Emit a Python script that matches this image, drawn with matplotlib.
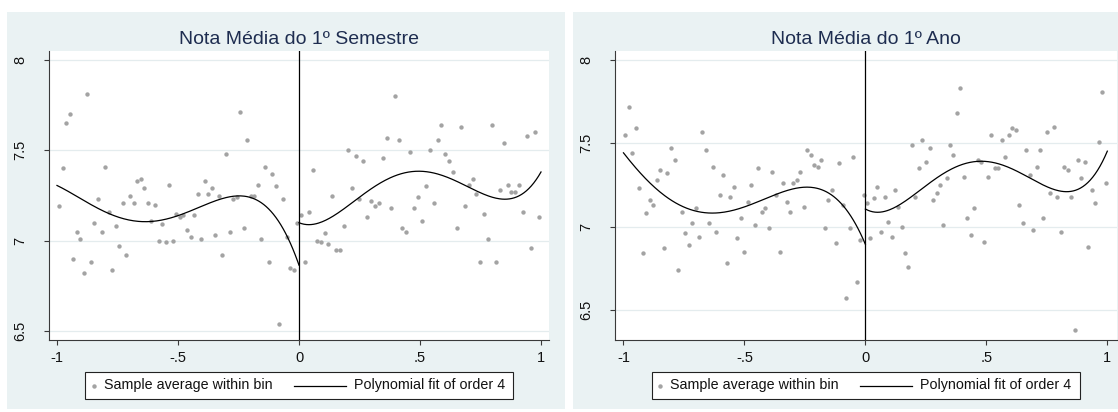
import numpy as np
import matplotlib
matplotlib.use("Agg")
import matplotlib.pyplot as plt
from matplotlib.patches import Rectangle
from matplotlib.lines import Line2D

plt.rcParams['font.family'] = ['Liberation Sans', 'DejaVu Sans']

W, H = 1118, 412
GREY = '#a3a3a3'
BG = '#eaf2f3'

titles = ["Nota Média do 1º Semestre", "Nota Média do 1º Ano"]

# bin averages, 1st semester
sem_xl = [-0.992, -0.977, -0.963, -0.948, -0.933, -0.917, -0.904, -0.888, -0.875, -0.860,
          -0.846, -0.831, -0.815, -0.800, -0.787, -0.771, -0.758, -0.742, -0.727, -0.713,
          -0.697, -0.683, -0.668, -0.654, -0.639, -0.624, -0.610, -0.595, -0.580, -0.566,
          -0.551, -0.537, -0.522, -0.507, -0.492, -0.478, -0.463, -0.448, -0.434, -0.419,
          -0.405, -0.390, -0.375, -0.361, -0.346, -0.331, -0.317, -0.302, -0.287, -0.271,
          -0.256, -0.244, -0.229, -0.213, -0.200, -0.184, -0.169, -0.156, -0.140, -0.125,
          -0.112, -0.096, -0.081, -0.067, -0.051, -0.037, -0.022, -0.008]
sem_yl = [7.19, 7.40, 7.65, 7.70, 6.90, 7.05, 7.01, 6.82, 7.81, 6.88,
          7.10, 7.23, 7.05, 7.41, 7.16, 6.84, 7.08, 6.97, 7.21, 6.92,
          7.25, 7.21, 7.33, 7.34, 7.29, 7.21, 7.11, 7.20, 7.00, 7.09,
          6.99, 7.31, 7.00, 7.15, 7.13, 7.14, 7.06, 7.02, 7.14, 7.26,
          7.01, 7.33, 7.26, 7.29, 7.03, 7.25, 6.92, 7.48, 7.05, 7.23,
          7.24, 7.71, 7.07, 7.56, 7.25, 7.25, 7.31, 7.01, 7.41, 6.88,
          7.37, 7.30, 6.54, 7.23, 7.02, 6.85, 6.84, 7.10]
sem_xr = [0.010, 0.025, 0.041, 0.056, 0.073, 0.090, 0.106, 0.121, 0.138, 0.153,
          0.169, 0.186, 0.201, 0.218, 0.234, 0.249, 0.266, 0.282, 0.299, 0.314,
          0.331, 0.346, 0.364, 0.380, 0.395, 0.412, 0.427, 0.444, 0.460, 0.475,
          0.492, 0.508, 0.523, 0.540, 0.556, 0.573, 0.588, 0.605, 0.620, 0.636,
          0.653, 0.669, 0.685, 0.701, 0.718, 0.733, 0.749, 0.766, 0.781, 0.798,
          0.814, 0.829, 0.846, 0.862, 0.877, 0.894, 0.910, 0.927, 0.942, 0.959,
          0.975, 0.992]
sem_yr = [7.14, 6.88, 7.16, 7.39, 7.00, 6.99, 7.04, 6.98, 7.25, 6.95,
          6.95, 7.08, 7.50, 7.29, 7.47, 7.23, 7.44, 7.13, 7.22, 7.19,
          7.21, 7.46, 7.57, 7.18, 7.80, 7.56, 7.07, 7.05, 7.49, 7.18,
          7.24, 7.11, 7.30, 7.50, 7.21, 7.56, 7.64, 7.48, 7.44, 7.38,
          7.07, 7.63, 7.19, 7.31, 7.34, 7.26, 6.88, 7.15, 7.01, 7.64,
          6.88, 7.28, 7.54, 7.31, 7.27, 7.27, 7.31, 7.16, 7.58, 6.96,
          7.60, 7.13]

# fitted curve, 1st semester
sem_fit_xl = [-1.0, -0.913, -0.844, -0.775, -0.706, -0.638, -0.569, -0.5, -0.431,
              -0.362, -0.293, -0.238, -0.183, -0.128, -0.073, -0.031, 0.0]
sem_fit_yl = [7.306, 7.242, 7.186, 7.142, 7.116, 7.109, 7.116, 7.138, 7.172,
              7.208, 7.238, 7.249, 7.236, 7.186, 7.079, 6.959, 6.873]
sem_fit_xr = [0.0, 0.037, 0.093, 0.161, 0.230, 0.299, 0.368, 0.437, 0.492,
              0.561, 0.630, 0.699, 0.767, 0.836, 0.878, 0.933, 1.0]
sem_fit_yr = [7.101, 7.090, 7.101, 7.149, 7.218, 7.288, 7.347, 7.382, 7.389,
              7.371, 7.332, 7.292, 7.255, 7.234, 7.238, 7.273, 7.375]

# bin averages, 1st year
ano_xl = [-0.992, -0.978, -0.963, -0.949, -0.934, -0.920, -0.905, -0.891, -0.876, -0.862,
          -0.847, -0.833, -0.818, -0.804, -0.789, -0.775, -0.760, -0.747, -0.731, -0.718,
          -0.702, -0.689, -0.674, -0.660, -0.645, -0.631, -0.616, -0.602, -0.587, -0.573,
          -0.558, -0.544, -0.529, -0.515, -0.500, -0.486, -0.471, -0.457, -0.442, -0.428,
          -0.413, -0.399, -0.384, -0.371, -0.355, -0.342, -0.326, -0.313, -0.298, -0.282,
          -0.269, -0.255, -0.240, -0.226, -0.211, -0.197, -0.182, -0.167, -0.153, -0.138,
          -0.123, -0.109, -0.094, -0.080, -0.065, -0.050, -0.036, -0.021, -0.007]
ano_yl = [7.55, 7.72, 7.44, 7.59, 7.23, 6.84, 7.08, 7.16, 7.13, 7.28,
          7.34, 6.87, 7.32, 7.47, 7.40, 6.74, 7.09, 6.96, 6.89, 7.02,
          7.11, 6.94, 7.57, 7.46, 7.02, 7.36, 6.97, 7.19, 7.31, 6.78,
          7.18, 7.24, 6.93, 7.05, 6.85, 7.15, 7.25, 7.01, 7.35, 7.09,
          7.11, 6.99, 7.33, 7.19, 6.85, 7.26, 7.15, 7.09, 7.26, 7.28,
          7.33, 7.12, 7.46, 7.43, 7.37, 7.36, 7.40, 6.99, 7.16, 7.22,
          6.90, 7.38, 7.13, 6.57, 6.99, 7.42, 6.67, 6.92, 7.19]
ano_xr = [0.007, 0.021, 0.036, 0.050, 0.065, 0.079, 0.092, 0.108, 0.121, 0.135,
          0.150, 0.164, 0.178, 0.193, 0.207, 0.222, 0.236, 0.251, 0.265, 0.279,
          0.294, 0.308, 0.321, 0.337, 0.350, 0.364, 0.378, 0.393, 0.407, 0.422,
          0.436, 0.450, 0.465, 0.479, 0.492, 0.506, 0.521, 0.535, 0.550, 0.564,
          0.578, 0.593, 0.607, 0.622, 0.636, 0.650, 0.665, 0.679, 0.692, 0.708,
          0.721, 0.735, 0.750, 0.764, 0.779, 0.793, 0.807, 0.821, 0.836, 0.850,
          0.865, 0.879, 0.892, 0.908, 0.921, 0.935, 0.950, 0.964, 0.979, 0.993]
ano_yr = [7.14, 6.93, 7.17, 7.24, 6.97, 7.18, 7.03, 6.94, 7.22, 7.12,
          7.00, 6.84, 6.76, 7.49, 7.18, 7.35, 7.52, 7.39, 7.47, 7.16,
          7.20, 7.25, 7.01, 7.29, 7.49, 7.43, 7.68, 7.83, 7.30, 7.05,
          6.95, 7.11, 7.40, 7.39, 6.91, 7.30, 7.55, 7.35, 7.35, 7.52,
          7.42, 7.55, 7.59, 7.58, 7.13, 7.02, 7.46, 7.31, 6.98, 7.36,
          7.46, 7.05, 7.57, 7.20, 7.60, 7.18, 6.97, 7.36, 7.34, 7.18,
          6.38, 7.40, 7.29, 7.39, 6.88, 7.22, 7.14, 7.51, 7.81, 7.26]

# fitted curve, 1st year
ano_fit_xl = [-1.0, -0.937, -0.882, -0.827, -0.772, -0.703, -0.634, -0.566, -0.496,
              -0.428, -0.359, -0.290, -0.235, -0.180, -0.125, -0.070, -0.028, 0.0]
ano_fit_yl = [7.430, 7.350, 7.260, 7.180, 7.124, 7.090, 7.076, 7.090, 7.124,
              7.166, 7.204, 7.230, 7.236, 7.220, 7.170, 7.080, 6.980, 6.900]
ano_fit_xr = [0.0, 0.032, 0.060, 0.115, 0.184, 0.253, 0.322, 0.390, 0.473,
              0.528, 0.597, 0.666, 0.735, 0.804, 0.838, 0.886, 0.941, 1.0]
ano_fit_yr = [7.116, 7.086, 7.080, 7.104, 7.170, 7.250, 7.330, 7.376, 7.390,
              7.380, 7.346, 7.300, 7.250, 7.216, 7.210, 7.230, 7.310, 7.445]

xticks = [-1, -0.5, 0, 0.5, 1]
xtick_labels = ['-1', '-.5', '0', '.5', '1']
yticks = [6.5, 7, 7.5, 8]
ytick_labels = ['6.5', '7', '7.5', '8']

legend_labels = ['Sample average within bin', 'Polynomial fit of order 4']


def frac(x0, y0, x1, y1):
    return [x0 / W, 1 - y1 / H, (x1 - x0) / W, (y1 - y0) / H]


fig = plt.figure(figsize=(W / 100, H / 100), dpi=100)
fig.patch.set_facecolor('white')

# panel backgrounds
for x0, x1 in [(7, 565), (573, 1118)]:
    fig.patches.append(Rectangle((x0 / W, 1 - 409 / H), (x1 - x0) / W, (409 - 12) / H,
                                 transform=fig.transFigure, facecolor=BG, edgecolor='none', zorder=-5))

panels = [
    (frac(49, 51, 549, 340), (-1.033, 1.033), (6.45, 8.05),
     (sem_xl, sem_yl, sem_xr, sem_yr),
     (sem_fit_xl, sem_fit_yl, sem_fit_xr, sem_fit_yr)),
    (frac(615, 51, 1117, 340), (-1.035, 1.04), (6.32, 8.054),
     (ano_xl, ano_yl, ano_xr, ano_yr),
     (ano_fit_xl, ano_fit_yl, ano_fit_xr, ano_fit_yr)),
]

for i, (rect, xl, yl, pts, fits) in enumerate(panels):
    ax = fig.add_axes(rect)
    ax.set_zorder(1)
    ax.set_facecolor('white')
    ax.set_xlim(*xl)
    ax.set_ylim(*yl)
    for s in ['top', 'right']:
        ax.spines[s].set_visible(False)
    for s in ['left', 'bottom']:
        ax.spines[s].set_color('#3a3a3a')
        ax.spines[s].set_linewidth(0.8)
    ax.set_xticks(xticks)
    ax.set_xticklabels(xtick_labels)
    ax.set_yticks(yticks)
    ax.set_yticklabels(ytick_labels, rotation=90, va='center')
    ax.tick_params(axis='both', length=3.6, width=0.8, color='#3a3a3a', labelsize=10.5, labelcolor='#111111')
    ax.tick_params(axis='x', pad=4)
    ax.tick_params(axis='y', pad=12)
    ax.grid(axis='y', color='#e4ecee', lw=0.9)
    ax.set_axisbelow(True)

    ax.scatter(pts[0], pts[1], s=10, color=GREY, lw=0, zorder=3)
    ax.scatter(pts[2], pts[3], s=10, color=GREY, lw=0, zorder=3)

    # order-4 polynomial through the curve values on each side of the cutoff
    for fx, fy in [(fits[0], fits[1]), (fits[2], fits[3])]:
        c = np.polyfit(fx, fy, 4)
        xx = np.linspace(min(fx), max(fx), 200)
        ax.plot(xx, np.polyval(c, xx), color='black', lw=0.9, zorder=4)

    ax.axvline(0, color='black', lw=0.9, zorder=4)

    ax.text(0.5, 1 + 12 / 289, titles[i], transform=ax.transAxes, ha='center', va='center',
            fontsize=14, color='#1e2d50')

    # legend box below the plot, centred on the cutoff
    cx = 299.3 if i == 0 else 865.5
    bx = cx - 214
    fig.patches.append(Rectangle((bx / W, 1 - 399 / H), 428 / W, 27 / H, transform=fig.transFigure,
                                 facecolor='white', edgecolor='#222222', lw=0.8, zorder=2))
    yc = 1 - 385.5 / H
    fig.add_artist(Line2D([(bx + 8.6) / W], [yc], marker='o', ms=3.2, mew=0, color=GREY, ls='none',
                          transform=fig.transFigure, zorder=3))
    fig.text((bx + 18.6) / W, yc, legend_labels[0], va='center', ha='left', fontsize=10.3,
             color='#111111', zorder=3)
    fig.add_artist(Line2D([(bx + 208.6) / W, (bx + 260.7) / W], [yc, yc], color='black', lw=0.9,
                          transform=fig.transFigure, zorder=3))
    fig.text((bx + 268.6) / W, yc, legend_labels[1], va='center', ha='left', fontsize=10.3,
             color='#111111', zorder=3)

fig.savefig('out.png', dpi=100)
